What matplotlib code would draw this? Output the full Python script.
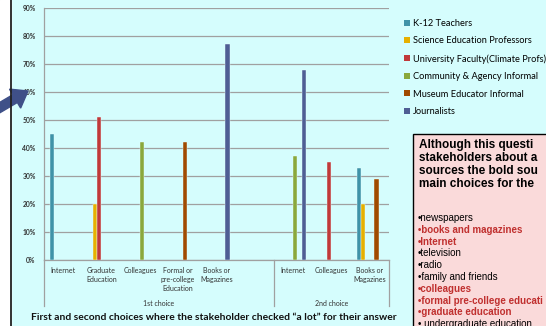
import matplotlib.pyplot as plt
import numpy as np
from matplotlib.patches import Rectangle, FancyArrow, Patch
from matplotlib.lines import Line2D
from matplotlib.transforms import IdentityTransform

# categories (blank slot between the two choice groups)
categories = ['Internet', 'Graduate\nEducation', 'Colleagues', 'Formal or\npre-college\nEducation',
              'Books or\nMagazines', '', 'Internet', 'Colleagues', 'Books or\nMagazines']
groups = ['1st choice', '2nd choice']

series = ['K-12 Teachers', 'Science Education Professors', 'University Faculty(Climate Profs)',
          'Community & Agency Informal', 'Museum Educator Informal', 'Journalists']
nan = np.nan
k12 = [0.45, nan, nan, nan, nan, nan, nan, nan, 0.33]
sci_prof = [nan, 0.20, nan, nan, nan, nan, nan, nan, 0.20]
univ = [nan, 0.51, nan, nan, nan, nan, nan, 0.35, nan]
community = [nan, nan, 0.42, nan, nan, nan, 0.37, nan, nan]
museum = [nan, nan, nan, 0.42, nan, nan, nan, nan, 0.29]
journalists = [nan, nan, nan, nan, 0.77, nan, 0.68, nan, nan]
values = [k12, sci_prof, univ, community, museum, journalists]
colors = ['#3f93a8', '#e6b000', '#c0393a', '#8aa83c', '#a04a00', '#4f5e94']

# the box text as far as it shows before the slide edge
box_title = ['Although this questi', 'stakeholders about a', 'sources the bold sou', 'main choices for the']
box_items = ['•newspapers', '•books and magazines', '•Internet', '•television', '•radio',
             '•family and friends', '•colleagues', '•formal pre-college educati',
             '•graduate education', '• undergraduate education']
box_bold = [False, True, True, False, False, False, True, True, True, False]

W, H = 546, 326
bg = '#d5fdfd'
fig = plt.figure(figsize=(W / 100, H / 100), dpi=100)
fig.patch.set_facecolor(bg)

# white strip and dark border at left
fig.add_artist(Rectangle((0, 0), 11 / W, 1, transform=fig.transFigure, color='white', zorder=0))
fig.add_artist(Line2D([11 / W, 11 / W], [0, 1], color='#222222', lw=1.3))

ax = fig.add_axes([44 / W, (H - 260) / H, (389 - 44) / W, 252 / H])
ax.set_facecolor(bg)
x = np.arange(len(categories))
step = 0.115
for i, (vals, c) in enumerate(zip(values, colors)):
    ax.bar(x + (i - 2.5) * step, vals, width=0.108, color=c, edgecolor='#e8ffff', linewidth=0.3, zorder=3)

ax.set_xlim(-0.5, len(categories) - 0.5)
ax.set_ylim(0, 0.9)
ax.set_yticks(np.arange(0, 0.91, 0.1))
ax.set_yticklabels([f'{int(round(v * 100))}%' for v in np.arange(0, 0.91, 0.1)],
                   fontsize=4.9, fontweight='bold', color='#333333', family='Lato')
ax.yaxis.grid(True, color='#a0a0a0', lw=0.9)
ax.set_axisbelow(True)
ax.tick_params(axis='y', length=0, pad=6)
ax.set_xticks(x)
ax.set_xticklabels(categories, fontsize=5, color='#333333', family='Lato', linespacing=1.35, va='top')
ax.tick_params(axis='x', length=0, pad=5)
for s in ['top', 'right']:
    ax.spines[s].set_visible(False)
for s in ['left', 'bottom']:
    ax.spines[s].set_color('#a0a0a0')
    ax.spines[s].set_linewidth(0.9)

# multi-level axis: group labels and dividers
trans = ax.get_xaxis_transform()
low = -46 / 252
for xd in [-0.5, 5.5, len(categories) - 0.5]:
    ax.plot([xd, xd], [0, low], color='#a0a0a0', lw=0.9, transform=trans, clip_on=False)
ax.text(2.5, -43 / 252, groups[0], transform=trans, ha='center', va='center',
        fontsize=5, color='#333333', family='Lato')
ax.text(7, -43 / 252, groups[1], transform=trans, ha='center', va='center',
        fontsize=5, color='#333333', family='Lato')

fig.text(214 / W, 1 - 318 / H, 'First and second choices where the stakeholder checked \u201ca lot\u201d for their answer',
         ha='center', va='center', fontsize=7.4, fontweight='bold', family='Lato', color='#111111')

# legend
handles = [Patch(facecolor=c, edgecolor='none') for c in colors]
fig.legend(handles, series, loc='upper left', bbox_to_anchor=(396 / W, 1 - 10.5 / H),
           frameon=False, handlelength=0.6, handleheight=0.6, handletextpad=0.3,
           labelspacing=0.92, prop={'family': 'Lato', 'size': 6.7})

# pointer arrow
fig.add_artist(FancyArrow(-6, H - 111, 34, 20, width=9, head_width=22, head_length=15,
                          length_includes_head=True, color='#3f5088', transform=IdentityTransform()))

# text box at right
fig.add_artist(Rectangle((413 / W, -0.1), 0.5, (H - 134) / H + 0.1, transform=fig.transFigure,
                         facecolor='#fadada', edgecolor='black', lw=1.0))
for j, line in enumerate(box_title):
    fig.text(419 / W, 1 - (145 + 13 * j) / H, line, ha='left', va='center', fontsize=8.5,
             fontweight='bold', family='Liberation Sans', color='black')
for j, (item, b) in enumerate(zip(box_items, box_bold)):
    fig.text(418 / W, 1 - (218 + 11.8 * j) / H, item, ha='left', va='center', fontsize=7.0,
             fontweight='bold' if b else 'normal', family='Liberation Sans',
             color='#c0302f' if b else 'black')

fig.savefig('out.png', dpi=100, facecolor=fig.get_facecolor())
